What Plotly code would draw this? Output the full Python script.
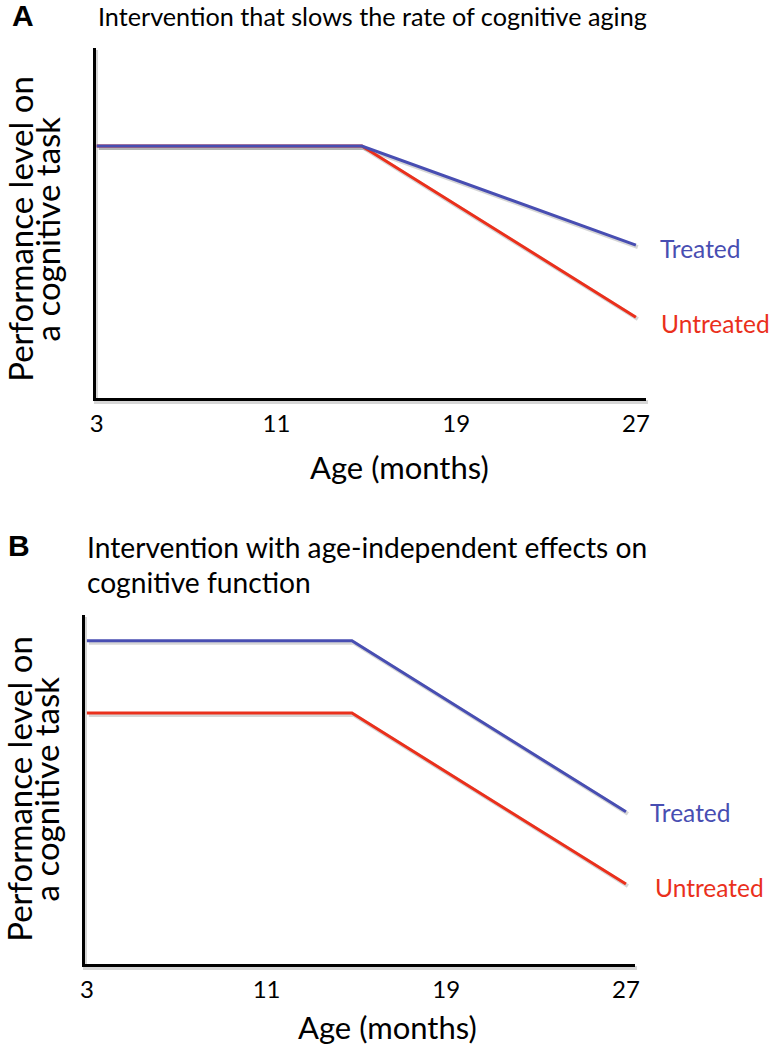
import plotly.graph_objects as go

W, H = 774, 1051

# ---- data ----
ages = [3, 14.8, 27]
a_treated = [7.2, 7.2, 4.37]
a_untreated = [7.2, 7.2, 2.31]
b_treated = [9.26, 9.26, 4.36]
b_untreated = [7.19, 7.19, 2.29]
tick_vals = [3, 11, 19, 27]
tick_text = ["3", "11", "19", "27"]

BLUE = "rgb(72,78,178)"
RED = "rgb(234,48,28)"
SHADOW = "rgba(0,0,0,0.16)"
FONT = "Lato"


def px(x):
    return x / W


def py(y):
    return 1 - y / H


# panel geometry (pixels): left, right, top, bottom, x-range
panels = [
    dict(l=91, r=649, t=48, b=398, xr=[2.956, 27.44], tr=a_treated, un=a_untreated),
    dict(l=80, r=638, t=615, b=964, xr=[2.91, 27.4], tr=b_treated, un=b_untreated),
]
SH = 2  # shadow offset in px

fig = go.Figure()
layout = {}
axis_id = 1


def add_axes(p, dx, dy, shadow):
    global axis_id
    n = axis_id
    axis_id += 1
    xs = "x" if n == 1 else "x%d" % n
    ys = "y" if n == 1 else "y%d" % n
    lc = SHADOW if shadow else "black"
    layout["xaxis" if n == 1 else "xaxis%d" % n] = dict(
        domain=[px(p["l"] + dx), px(p["r"] + dx)], range=p["xr"], anchor=ys,
        showline=True, linecolor=lc, linewidth=3 if not shadow else 4, showgrid=False, zeroline=False,
        tickvals=tick_vals, ticktext=tick_text, ticks="", showticklabels=not shadow,
        tickfont=dict(family=FONT, size=24, color="black"), ticklabelstandoff=2)
    layout["yaxis" if n == 1 else "yaxis%d" % n] = dict(
        domain=[py(p["b"] + dy), py(p["t"] + dy)], range=[0, 10], anchor=xs,
        showline=True, linecolor=lc, linewidth=3 if not shadow else 4, showgrid=False, zeroline=False,
        showticklabels=False, ticks="")
    for ys_data, col in [(p["un"], RED), (p["tr"], BLUE)]:
        fig.add_trace(go.Scatter(x=ages, y=ys_data, mode="lines",
                                 line=dict(color=SHADOW if shadow else col, width=4 if shadow else 3),
                                 xaxis=xs, yaxis=ys, showlegend=False, hoverinfo="skip"))
    return xs, ys


# shadows first (drawn underneath), then main axes
for p in panels:
    add_axes(p, SH, SH, True)
main_refs = [add_axes(p, 0, 0, False) for p in panels]

fig.update_layout(width=W, height=H, margin=dict(l=0, r=0, t=0, b=0),
                  paper_bgcolor="white", plot_bgcolor="rgba(0,0,0,0)", **layout)

ann = []


def text(x, y, s, size, color="black", xanchor="left", bold=False, angle=0, family=FONT):
    ann.append(dict(x=px(x), y=py(y), xref="paper", yref="paper", text=("<b>%s</b>" % s) if bold else s,
                    showarrow=False, xanchor=xanchor, yanchor="middle", textangle=angle,
                    font=dict(family=family, size=size, color=color)))


# panel letters and titles
text(4, 16, "A", 30, bold=True, family="Liberation Sans")
text(91, 16, "Intervention that slows the rate of cognitive aging", 25.2)
text(0, 545, "B", 30, bold=True, family="Liberation Sans")
text(80, 547, "Intervention with age-independent effects on", 28.2)
text(80, 582, "cognitive function", 28.2)

# axis titles
text(399, 467, "Age (months)", 31, xanchor="center")
text(387, 1027, "Age (months)", 31, xanchor="center")
for cx, cy in [(14, 229), (13, 789)]:
    text(cx, cy, "Performance level on", 33, xanchor="center", angle=-90)
    text(cx + 28, cy, "a cognitive task", 33, xanchor="center", angle=-90)

# series labels anchored to line ends
for (xa, ya), p, sh in zip(main_refs, panels, [(22, -3, 23, -6), (22, -1, 27, -3)]):
    ann.append(dict(x=ages[-1], y=p["tr"][-1], xref=xa, yref=ya, text="Treated", showarrow=False,
                    xanchor="left", yanchor="middle", xshift=sh[0], yshift=sh[1],
                    font=dict(family=FONT, size=24.5, color=BLUE)))
    ann.append(dict(x=ages[-1], y=p["un"][-1], xref=xa, yref=ya, text="Untreated", showarrow=False,
                    xanchor="left", yanchor="middle", xshift=sh[2], yshift=sh[3],
                    font=dict(family=FONT, size=24.5, color=RED)))

fig.update_layout(annotations=ann)
fig.write_html("out.html", config={"displayModeBar": False},
               post_script="document.body.style.margin='0';")
